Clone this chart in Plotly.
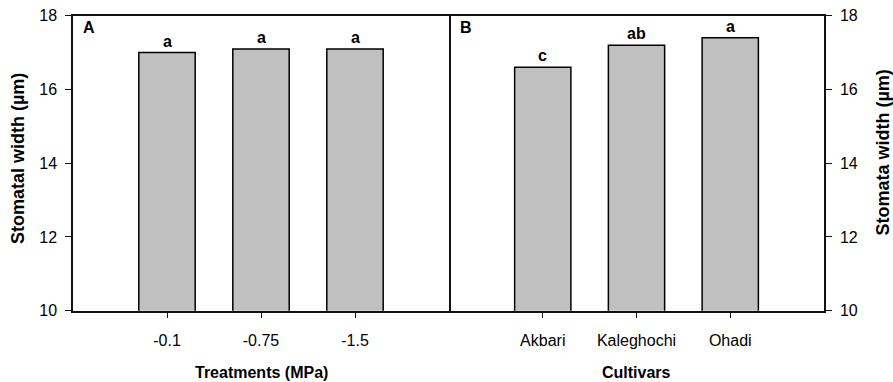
import plotly.graph_objects as go

# ---- data ----
treatments = ["-0.1", "-0.75", "-1.5"]
treatment_width = [17.0, 17.1, 17.1]
treatment_letters = ["a", "a", "a"]

cultivars = ["Akbari", "Kaleghochi", "Ohadi"]
cultivar_width = [16.6, 17.2, 17.4]
cultivar_letters = ["c", "ab", "a"]

y_ticks = [10, 12, 14, 16, 18]
y_range = [10, 18]

# ---- layout helpers ----
W, H = 893, 382
FONT = "Liberation Sans, Arial, sans-serif"
LINE = "#111111"

def fx(p):
    return p / W

def fy(p):
    return 1 - p / H

x1_dom = [fx(73), fx(449)]
x2_dom = [fx(449), fx(824)]
y_dom = [fy(310.7), fy(15.7)]

fig = go.Figure()

bar_style = dict(marker=dict(color="#c0c0c0", line=dict(color="black", width=1.5)),
                 width=0.6, showlegend=False, hoverinfo="x+y")

fig.add_trace(go.Bar(x=treatments, y=treatment_width, xaxis="x", yaxis="y",
                     text=treatment_letters, textposition="none", **bar_style))
fig.add_trace(go.Bar(x=cultivars, y=cultivar_width, xaxis="x2", yaxis="y2",
                     text=cultivar_letters, textposition="none", **bar_style))

common_x = dict(type="category", range=[-1, 3], showline=True, linecolor=LINE, linewidth=1.5,
                mirror=True, ticks="outside", ticklen=6, tickwidth=1.2, tickcolor=LINE,
                showgrid=False, zeroline=False, ticklabelstandoff=8, automargin=False,
                ticklabeloverflow="allow",
                tickfont=dict(family=FONT, size=16, color="black"), fixedrange=True)
common_y = dict(range=y_range, tickvals=y_ticks, showline=True, linecolor=LINE, linewidth=1.5,
                ticks="outside", ticklen=6, tickwidth=1.2, tickcolor=LINE,
                showgrid=False, zeroline=False, ticklabelstandoff=5, automargin=False,
                ticklabeloverflow="allow",
                tickfont=dict(family=FONT, size=16, color="black"), fixedrange=True)

fig.update_layout(
    width=W, height=H, autosize=False,
    margin=dict(l=0, r=0, t=0, b=0, pad=0),
    paper_bgcolor="white", plot_bgcolor="white",
    font=dict(family=FONT, color="black"),
    bargap=0.4,
    xaxis=dict(domain=x1_dom, anchor="y", **common_x),
    xaxis2=dict(domain=x2_dom, anchor="y2", **common_x),
    # left panel draws its left axis and the shared divider (mirror)
    yaxis=dict(domain=y_dom, anchor="x", side="left", mirror=True, **common_y),
    # right panel draws only its right axis
    yaxis2=dict(domain=y_dom, anchor="x2", side="right", mirror=False, **common_y),
)

annotations = []
# significance letters above bars (x given as category index)
for i, (val, lab) in enumerate(zip(treatment_width, treatment_letters)):
    annotations.append(dict(x=i, y=val, xref="x", yref="y", text=f"<b>{lab}</b>",
                            showarrow=False, yanchor="bottom", yshift=1,
                            font=dict(family=FONT, size=16, color="black")))
for i, (val, lab) in enumerate(zip(cultivar_width, cultivar_letters)):
    annotations.append(dict(x=i, y=val, xref="x2", yref="y2", text=f"<b>{lab}</b>",
                            showarrow=False, yanchor="bottom", yshift=1,
                            font=dict(family=FONT, size=16, color="black")))

# panel labels
annotations.append(dict(x=fx(81), y=fy(17), xref="paper", yref="paper", text="<b>A</b>",
                        showarrow=False, xanchor="left", yanchor="top",
                        font=dict(family=FONT, size=16, color="black")))
annotations.append(dict(x=fx(458), y=fy(17), xref="paper", yref="paper", text="<b>B</b>",
                        showarrow=False, xanchor="left", yanchor="top",
                        font=dict(family=FONT, size=16, color="black")))

# axis titles
annotations.append(dict(x=fx(261), y=fy(372), xref="paper", yref="paper",
                        text="<b>Treatments (MPa)</b>", showarrow=False,
                        xanchor="center", yanchor="middle",
                        font=dict(family=FONT, size=16, color="black")))
annotations.append(dict(x=fx(636), y=fy(372), xref="paper", yref="paper",
                        text="<b>Cultivars</b>", showarrow=False,
                        xanchor="center", yanchor="middle",
                        font=dict(family=FONT, size=16, color="black")))
annotations.append(dict(x=fx(18), y=fy(159), xref="paper", yref="paper",
                        text="<b>Stomatal width (µm)</b>", showarrow=False, textangle=-90,
                        xanchor="center", yanchor="middle",
                        font=dict(family=FONT, size=18, color="black")))
annotations.append(dict(x=fx(882), y=fy(152.5), xref="paper", yref="paper",
                        text="<b>Stomata width (µm)</b>", showarrow=False, textangle=-90,
                        xanchor="center", yanchor="middle",
                        font=dict(family=FONT, size=18, color="black")))

fig.update_layout(annotations=annotations)

# remove the browser's default 8px body margin so the figure fills the window exactly
fig.write_html("out.html",
               config={"displayModeBar": False},
               post_script="document.body.style.margin='0';document.body.style.overflow='hidden';")
